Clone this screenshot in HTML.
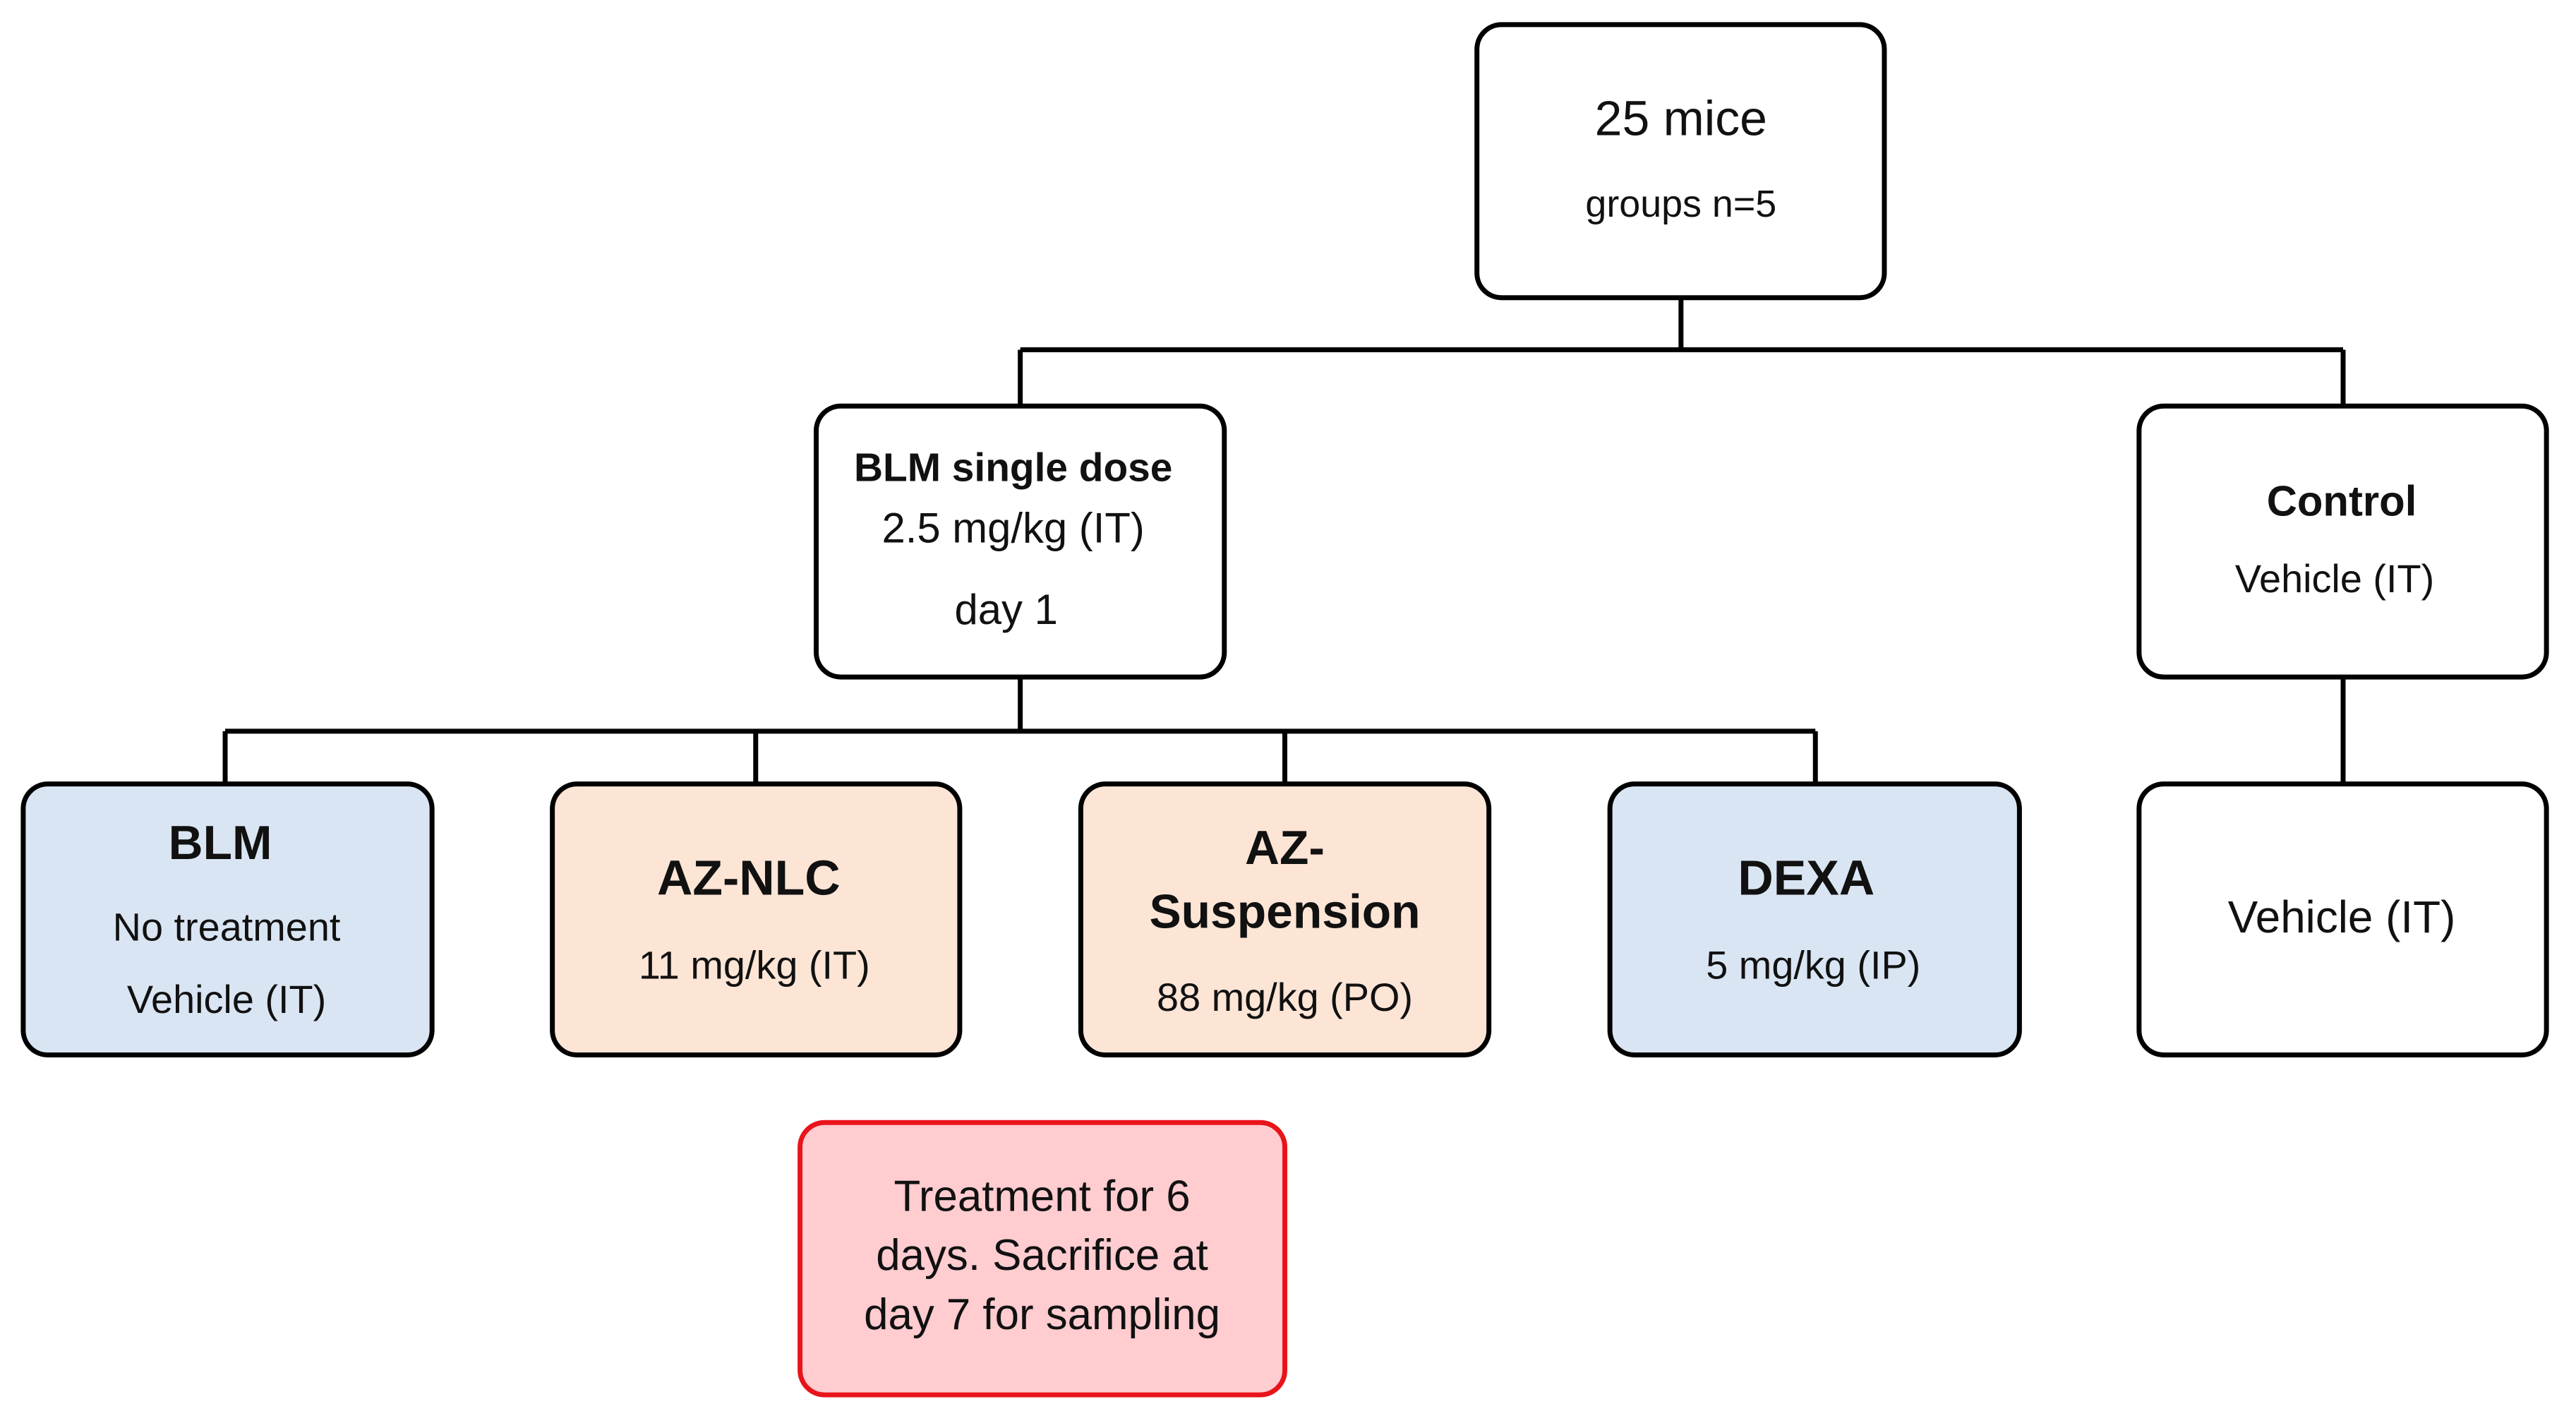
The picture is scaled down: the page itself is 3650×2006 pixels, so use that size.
<!DOCTYPE html>
<html><head><meta charset="utf-8"><style>
html,body{margin:0;padding:0;background:#fff;}
svg{display:block}
text{font-family:"Liberation Sans",sans-serif;text-anchor:middle;dominant-baseline:central;fill:#111}
.b{font-weight:bold}
</style></head><body>
<svg width="3650" height="2006" viewBox="0 0 3650 2006" xmlns="http://www.w3.org/2000/svg">
<g transform="scale(0.997)">
<g stroke="#000" stroke-width="7" fill="none">
<path d="M2389 423V497M1450 497H3330M1450 497V577M3330 497V577"/>
<path d="M1450 962V1039M320 1039H2580M320 1039V1114M1074 1039V1114M1826 1039V1114M2580 1039V1114"/>
<path d="M3330 962V1114"/>
</g>
<g stroke="#000" stroke-width="7">
<rect x="2099" y="35" width="579" height="388" rx="35" fill="#fff"/>
<rect x="1160" y="577" width="580" height="385" rx="35" fill="#fff"/>
<rect x="3040" y="577" width="579" height="385" rx="35" fill="#fff"/>
<rect x="33" y="1114" width="581" height="385" rx="35" fill="#dae5f3"/>
<rect x="785" y="1114" width="579" height="385" rx="35" fill="#fde5d6"/>
<rect x="1536" y="1114" width="580" height="385" rx="35" fill="#fde5d6"/>
<rect x="2288" y="1114" width="582" height="385" rx="35" fill="#dae5f3"/>
<rect x="3040" y="1114" width="579" height="385" rx="35" fill="#fff"/>
</g>
<rect x="1137" y="1595" width="689" height="387" rx="35" fill="#ffccd0" stroke="#e8141b" stroke-width="7"/>
<text x="2389" y="168" font-size="70">25 mice</text>
<text x="2389" y="290" font-size="54">groups n=5</text>
<text x="1440" y="665" font-size="57" class="b">BLM single dose</text>
<text x="1440" y="750" font-size="60">2.5 mg/kg (IT)</text>
<text x="1430" y="866" font-size="60">day 1</text>
<text x="3328" y="712" font-size="60" class="b">Control</text>
<text x="3318" y="822" font-size="56">Vehicle (IT)</text>
<text x="313" y="1198" font-size="68" class="b">BLM</text>
<text x="322" y="1317" font-size="56">No treatment</text>
<text x="322" y="1420" font-size="56">Vehicle (IT)</text>
<text x="1064" y="1247" font-size="70" class="b">AZ-NLC</text>
<text x="1072" y="1371" font-size="56">11 mg/kg (IT)</text>
<text x="1826" y="1205" font-size="68" class="b">AZ-</text>
<text x="1826" y="1296" font-size="68" class="b">Suspension</text>
<text x="1826" y="1417" font-size="56">88 mg/kg (PO)</text>
<text x="2567" y="1247" font-size="70" class="b">DEXA</text>
<text x="2577" y="1371" font-size="56">5 mg/kg (IP)</text>
<text x="3328" y="1303" font-size="64">Vehicle (IT)</text>
<text x="1481" y="1700" font-size="62">Treatment for 6</text>
<text x="1481" y="1784" font-size="62">days. Sacrifice at</text>
<text x="1481" y="1868" font-size="62">day 7 for sampling</text>
</g>
</svg>
</body></html>
